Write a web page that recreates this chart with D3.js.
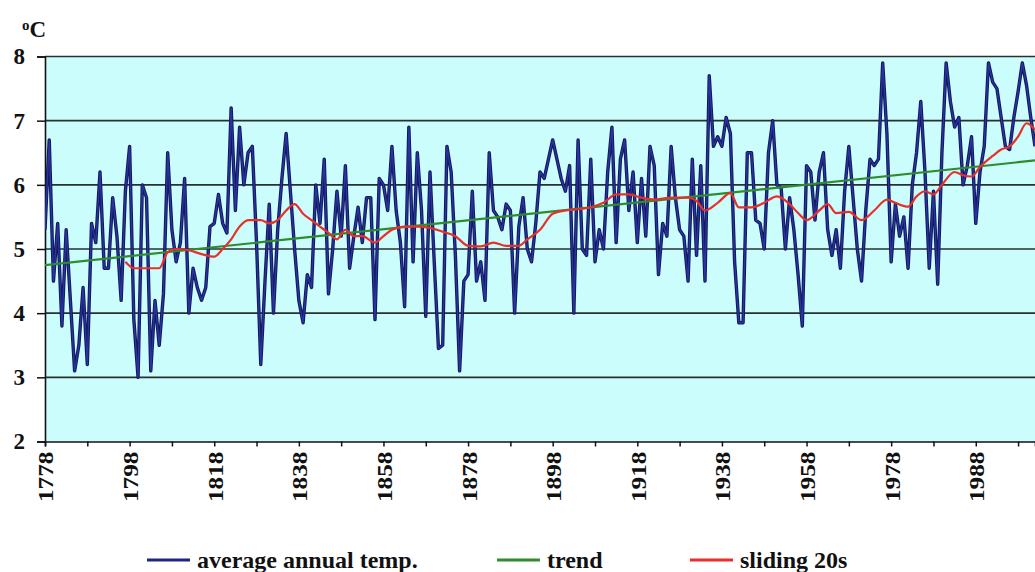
<!DOCTYPE html>
<html lang="en">
<head>
  <meta charset="UTF-8">
  <title>Average annual temperature</title>
  <script src="https://cdn.jsdelivr.net/npm/d3@7"></script>
  <style>
    body { margin: 0; background: #ffffff; }
    svg text { font-family: "Liberation Serif", "Times New Roman", serif; font-weight: bold; fill: #111; }
  </style>
</head>
<body>
<div id="chart"></div>
<script>
  // average annual temperature, one value per year from 1778
  var firstYear = 1778;
  var temps = [
    // 1778-1779
    5.3, 6.7,
    // 1780s
    4.5, 5.4, 3.8, 5.3, 4.2, 3.1, 3.5, 4.4, 3.2, 5.4,
    // 1790s
    5.1, 6.2, 4.7, 4.7, 5.8, 5.2, 4.2, 5.9, 6.6, 3.9,
    // 1800s
    3.0, 6.0, 5.8, 3.1, 4.2, 3.5, 4.3, 6.5, 5.3, 4.8,
    // 1810s
    5.1, 6.1, 4.0, 4.7, 4.4, 4.2, 4.4, 5.35, 5.4, 5.85,
    // 1820s
    5.4, 5.25, 7.2, 5.6, 6.9, 6.0, 6.5, 6.6, 5.1, 3.2,
    // 1830s
    4.5, 5.7, 4.0, 5.3, 6.1, 6.8, 5.9, 5.0, 4.2, 3.85,
    // 1840s
    4.6, 4.4, 6.0, 5.4, 6.4, 4.3, 5.0, 5.9, 5.2, 6.3,
    // 1850s
    4.7, 5.2, 5.65, 5.1, 5.8, 5.8, 3.9, 6.1, 6.0, 5.6,
    // 1860s
    6.6, 5.6, 5.1, 4.1, 6.9, 4.8, 6.5, 5.6, 3.95, 6.2,
    // 1870s
    4.8, 3.45, 3.5, 6.6, 6.2, 4.9, 3.1, 4.5, 4.6, 5.9,
    // 1880s
    4.5, 4.8, 4.2, 6.5, 5.6, 5.5, 5.3, 5.7, 5.6, 4.0,
    // 1890s
    5.35, 5.8, 5.0, 4.8, 5.4, 6.2, 6.1, 6.4, 6.7, 6.4,
    // 1900s
    6.1, 5.9, 6.3, 4.0, 6.7, 5.0, 4.9, 6.4, 4.8, 5.3,
    // 1910s
    5.0, 6.2, 6.9, 5.1, 6.4, 6.7, 5.6, 6.2, 5.1, 6.1,
    // 1920s
    5.2, 6.6, 6.3, 4.6, 5.4, 5.2, 6.6, 5.8, 5.3, 5.2,
    // 1930s
    4.5, 6.4, 4.9, 6.3, 4.5, 7.7, 6.6, 6.75, 6.6, 7.05,
    // 1940s
    6.8, 4.8, 3.85, 3.85, 6.5, 6.5, 5.45, 5.4, 5.0, 6.5,
    // 1950s
    7.0, 6.0, 5.95, 5.0, 5.8, 5.3, 4.6, 3.8, 6.3, 6.2,
    // 1960s
    5.45, 6.2, 6.5, 5.3, 4.9, 5.3, 4.7, 5.9, 6.6, 5.8,
    // 1970s
    5.0, 4.5, 5.6, 6.4, 6.3, 6.4, 7.9, 6.8, 4.8, 5.7,
    // 1980s
    5.2, 5.5, 4.7, 6.0, 6.5, 7.3, 6.2, 4.7, 5.9, 4.45,
    // 1990s
    6.5, 7.9, 7.3, 6.9, 7.05, 6.0, 6.3, 6.75, 5.4, 6.2,
    // 2000s
    6.6, 7.9, 7.6, 7.5, 7.05, 6.6, 6.55, 7.05, 7.45, 7.9,
    // 2010-2012
    7.55, 7.05, 6.6
  ];

  // sliding 20-year mean
  var slideYears = [1797, 1799, 1802, 1805, 1807, 1809, 1812, 1815, 1818, 1820, 1822, 1824, 1826, 1829,
    1831, 1833, 1835, 1837, 1839, 1841, 1843, 1845, 1847, 1849, 1851, 1853, 1856, 1858, 1860, 1863,
    1866, 1869, 1872, 1875, 1878, 1881, 1884, 1887, 1890, 1892, 1895, 1898, 1901, 1904, 1907, 1910,
    1913, 1916, 1919, 1922, 1926, 1930, 1932, 1934, 1937, 1940, 1942, 1945, 1948, 1951, 1954, 1956,
    1958, 1961, 1963, 1965, 1968, 1971, 1974, 1977, 1979, 1982, 1984, 1986, 1988, 1990, 1993, 1995,
    1997, 1999, 2002, 2004, 2006, 2008, 2010, 2012];
  var slideVals = [4.8, 4.7, 4.7, 4.7, 4.95, 5.0, 4.98, 4.92, 4.88, 5.0, 5.15, 5.35, 5.45, 5.45,
    5.4, 5.45, 5.6, 5.7, 5.55, 5.45, 5.35, 5.25, 5.15, 5.3, 5.2, 5.2, 5.1, 5.2, 5.3, 5.35,
    5.35, 5.33, 5.27, 5.2, 5.05, 5.04, 5.1, 5.05, 5.05, 5.15, 5.3, 5.55, 5.6, 5.62, 5.65, 5.72,
    5.85, 5.85, 5.8, 5.77, 5.8, 5.8, 5.75, 5.6, 5.72, 5.87, 5.65, 5.65, 5.72, 5.82, 5.7, 5.56,
    5.45, 5.6, 5.7, 5.56, 5.58, 5.45, 5.6, 5.77, 5.72, 5.66, 5.82, 5.9, 5.85, 6.0, 6.2, 6.15,
    6.13, 6.28, 6.45, 6.55, 6.6, 6.75, 6.96, 6.86];

  // linear trend, end points
  var trendYears = [1778, 2012];
  var trendVals = [4.75, 6.38];

  var yTicks = [2, 3, 4, 5, 6, 7, 8];
  var xTickYears = [1778, 1798, 1818, 1838, 1858, 1878, 1898, 1918, 1938, 1958, 1978, 1998];
  var xTickLabels = ["1778", "1798", "1818", "1838", "1858", "1878", "1898", "1918", "1938", "1958", "1978", "1988"];

  var legendNames = ["average annual temp.", "trend", "sliding 20s"];
  var legendColors = ["#1e2580", "#2e8b2e", "#e8302a"];

  var W = 1035, H = 572;
  var plot = { left: 45, right: 1035, top: 56.5, bottom: 441.5 };

  var svg = d3.select("#chart").append("svg")
    .attr("width", W)
    .attr("height", H);

  var x = d3.scaleLinear().domain([1778, 2012]).range([plot.left, plot.right]);
  var y = d3.scaleLinear().domain([2, 8]).range([plot.bottom, plot.top]);

  // plot background
  svg.append("rect")
    .attr("x", plot.left).attr("y", plot.top)
    .attr("width", plot.right - plot.left).attr("height", plot.bottom - plot.top)
    .attr("fill", "#ccfdfd");

  // horizontal gridlines
  svg.append("g").selectAll("line")
    .data(yTicks.filter(function(d) { return d > 2; }))
    .enter().append("line")
    .attr("x1", plot.left).attr("x2", plot.right)
    .attr("y1", function(d) { return y(d); }).attr("y2", function(d) { return y(d); })
    .attr("stroke", "#2a2f2f").attr("stroke-width", 1.6);

  // y axis
  var yAxis = svg.append("g")
    .attr("transform", "translate(" + plot.left + ",0)")
    .call(d3.axisLeft(y).tickValues(yTicks).tickSize(8).tickPadding(12).tickFormat(d3.format("d")));
  yAxis.select(".domain").attr("stroke", "#111").attr("stroke-width", 1.6);
  yAxis.selectAll(".tick line").attr("stroke", "#111").attr("stroke-width", 1.5);
  yAxis.selectAll("text").attr("font-size", 23).attr("fill", "#111");

  // x axis: ticks every 10 years, labels every 20
  var xAxis = svg.append("g")
    .attr("transform", "translate(0," + plot.bottom + ")")
    .call(d3.axisBottom(x).tickValues(d3.range(1778, 2012, 10)).tickSize(5).tickFormat(""));
  xAxis.select(".domain").attr("stroke", "#111").attr("stroke-width", 1.6);
  xAxis.selectAll(".tick line").attr("stroke", "#111").attr("stroke-width", 1.5);

  svg.append("g").selectAll("text")
    .data(xTickYears)
    .enter().append("text")
    .attr("transform", function(d) { return "translate(" + (x(d) + 1) + "," + (plot.bottom + 10) + ") rotate(-90) scale(1.15,1)"; })
    .attr("text-anchor", "end")
    .attr("dominant-baseline", "central")
    .attr("font-size", 22)
    .text(function(d, i) { return xTickLabels[i]; });

  // unit label
  var unit = svg.append("text").attr("x", 22).attr("y", 37).attr("font-size", 23);
  unit.append("tspan").attr("font-size", 15).attr("dy", -7).text("o");
  unit.append("tspan").attr("dy", 7).text("C");

  // lines
  svg.append("clipPath").attr("id", "plotClip").append("rect")
    .attr("x", plot.left).attr("y", plot.top - 3)
    .attr("width", plot.right - plot.left).attr("height", plot.bottom - plot.top + 3);

  var lines = svg.append("g").attr("clip-path", "url(#plotClip)");

  var tempLine = d3.line()
    .x(function(d, i) { return x(firstYear + i); })
    .y(function(d) { return y(d); });

  lines.append("path")
    .datum(temps)
    .attr("fill", "none")
    .attr("stroke", "#111a5a")
    .attr("stroke-width", 3.4)
    .attr("stroke-linejoin", "round")
    .attr("d", tempLine);
  lines.append("path")
    .datum(temps)
    .attr("fill", "none")
    .attr("stroke", "#2a33a0")
    .attr("stroke-width", 1.4)
    .attr("stroke-linejoin", "round")
    .attr("d", tempLine);

  var pairLine = d3.line()
    .x(function(d) { return x(d[0]); })
    .y(function(d) { return y(d[1]); });

  lines.append("path")
    .datum(d3.zip(trendYears, trendVals))
    .attr("fill", "none")
    .attr("stroke", legendColors[1])
    .attr("stroke-width", 2.2)
    .attr("d", pairLine);

  lines.append("path")
    .datum(d3.zip(slideYears, slideVals))
    .attr("fill", "none")
    .attr("stroke", legendColors[2])
    .attr("stroke-width", 2.2)
    .attr("d", pairLine.curve(d3.curveMonotoneX));

  // legend
  var legendX = [147, 497, 690];
  var legend = svg.append("g").selectAll("g")
    .data(legendNames)
    .enter().append("g")
    .attr("transform", function(d, i) { return "translate(" + legendX[i] + ",560)"; });

  legend.append("line")
    .attr("x1", 0).attr("x2", 43)
    .attr("stroke", function(d, i) { return legendColors[i]; })
    .attr("stroke-width", 3);

  legend.append("text")
    .attr("x", 50)
    .attr("dominant-baseline", "central")
    .attr("font-size", 24)
    .text(function(d) { return d; });
</script>
</body>
</html>
